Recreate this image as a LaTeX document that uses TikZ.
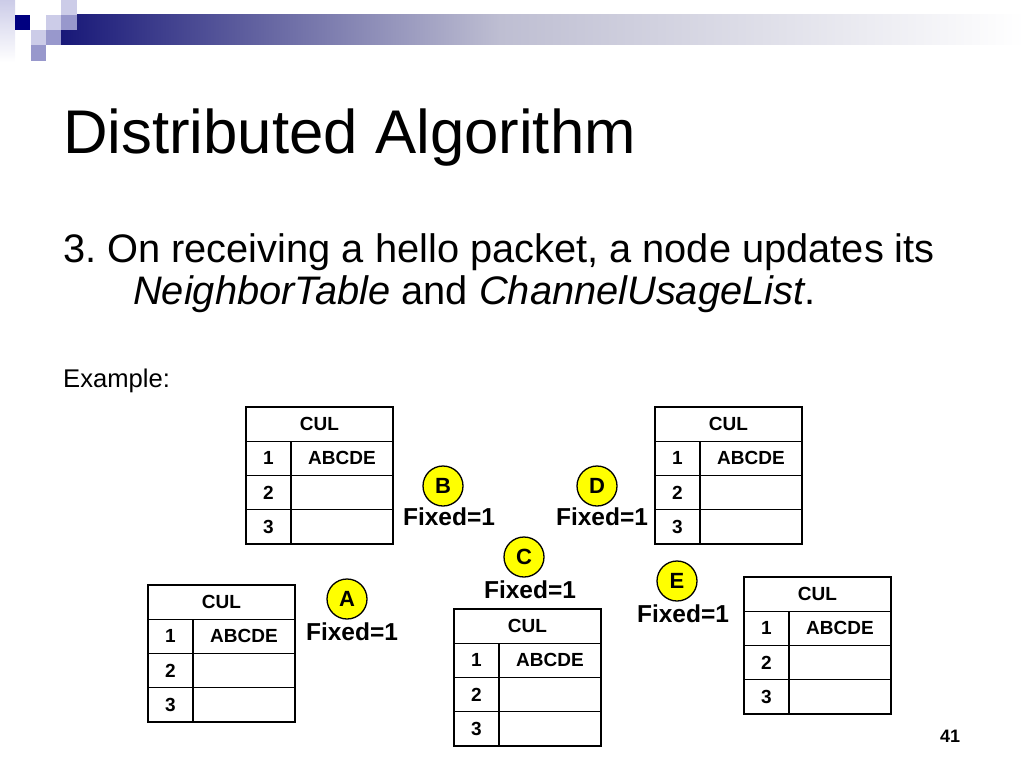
\documentclass[tikz,border=0pt]{standalone}
\usepackage{fontspec}
\setmainfont{Liberation Sans}
\frenchspacing

\definecolor{navy}{RGB}{0,0,128}
\definecolor{barblue}{RGB}{24,24,120}
\definecolor{barmid}{RGB}{190,190,210}
\definecolor{lilac}{RGB}{204,204,232}
\definecolor{midlilac}{RGB}{152,152,204}
\definecolor{nodeyellow}{RGB}{255,255,0}

\tikzset{
  txt/.style={inner sep=0pt, anchor=base west},
  station/.style={circle, draw, line width=1.3pt, fill=nodeyellow, minimum size=40pt,
    inner sep=0pt, font=\fontsize{22}{22}\selectfont\bfseries},
  fixedlbl/.style={inner sep=0pt, font=\fontsize{24.5}{25}\selectfont\bfseries},
  tableframe/.style={line width=2.6pt},
  cellline/.style={line width=1.1pt},
  celltext/.style={inner sep=0pt, font=\fontsize{19}{19}\selectfont\bfseries}
}

\newcommand{\cultable}[3]{%
\begin{scope}[shift={(#2,#3)}]
\draw[cellline] (0,34.25) -- (147,34.25) (0,68.5) -- (147,68.5) (0,102.75) -- (147,102.75) (45,34.25) -- (45,137);
\draw[tableframe] (0,0) rectangle (147,137);
\node[celltext] (#1-head) at (73.5,17.1) {CUL};
\foreach \r/\y in {1/51.4,2/85.6,3/119.9} \node[celltext] (#1-row\r) at (22.5,\y) {\r};
\node[celltext] (#1-ch1) at (96,51.4) {ABCDE};
\end{scope}}

\begin{document}
\begin{tikzpicture}[x=1pt,y=-1pt]
\useasboundingbox (0,0) rectangle (1024,768);

\shade[top color=lilac, bottom color=white] (0,0) rectangle (15,62);
\shade[left color=barblue, right color=barmid] (61,15) rectangle (500,45);
\shade[left color=barmid, right color=white] (500,15) rectangle (1024,45);
\fill[lilac] (61,0) rectangle (77,15);
\fill[navy] (15,15) rectangle (30,30);
\fill[lilac] (46,15) rectangle (61,30);
\fill[midlilac] (61,15) rectangle (77,30);
\fill[lilac] (31,30) rectangle (46,45);
\fill[midlilac] (46,30) rectangle (61,45);
\fill[midlilac] (31,45) rectangle (46,61);

\node[txt, font=\fontsize{61.7}{70}\selectfont] (title) at (63,153) {Distributed Algorithm};
\node[txt, font=\fontsize{39.8}{42}\selectfont] (line1) at (63,262) {3. On receiving a hello packet, a node updates its};
\node[txt, font=\fontsize{39.8}{42}\selectfont] (line2) at (133,304) {\textit{NeighborTable} and \textit{ChannelUsageList}.};
\node[txt, font=\fontsize{25.6}{28}\selectfont] (example) at (63,387) {Example:};

\cultable{culB}{246}{407}
\cultable{culD}{655}{407}
\cultable{culA}{148}{585}
\cultable{culC}{454}{609}
\cultable{culE}{744}{577}

\node[station] (A) at (347,599) {A};
\node[fixedlbl] (Afix) at (352,632) {Fixed=1};
\node[station] (B) at (443,486) {B};
\node[fixedlbl] (Bfix) at (449,517) {Fixed=1};
\node[station] (C) at (524,557) {C};
\node[fixedlbl] (Cfix) at (530,590) {Fixed=1};
\node[station] (D) at (597,486) {D};
\node[fixedlbl] (Dfix) at (602,517) {Fixed=1};
\node[station] (E) at (677,581) {E};
\node[fixedlbl] (Efix) at (683,614) {Fixed=1};

\node[inner sep=0pt, font=\fontsize{18}{18}\selectfont\bfseries] (page) at (950,736) {41};
\end{tikzpicture}
\end{document}
